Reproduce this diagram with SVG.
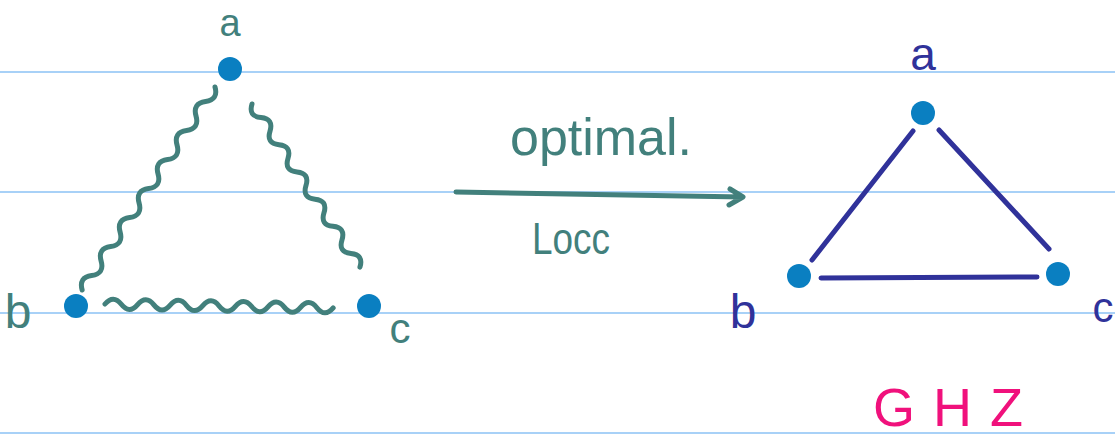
<svg xmlns="http://www.w3.org/2000/svg" width="1115" height="436" viewBox="0 0 1115 436">
<style>
.rule{stroke:#a8d1f7;stroke-width:2}
.teal{fill:none;stroke:#42807c;stroke-width:5;stroke-linecap:round;stroke-linejoin:round}
.navy{fill:none;stroke:#30329a;stroke-width:5;stroke-linecap:round;stroke-linejoin:round}
.dot{fill:#0a7fc1}
.t{font-family:"Liberation Sans",Arial,sans-serif}
.tt{fill:#42807c}
.tn{fill:#30329a}
.tp{fill:#f0117c}
</style>
<rect width="1115" height="436" fill="#ffffff"/>
<g id="rules">
<line class="rule" x1="0" y1="72" x2="1115" y2="72"/>
<line class="rule" x1="0" y1="192" x2="1115" y2="192"/>
<line class="rule" x1="0" y1="313" x2="1115" y2="313"/>
<line class="rule" x1="0" y1="433" x2="1115" y2="433"/>
</g>
<g id="connectors">
<path class="teal" transform="translate(215,87) rotate(123.2)" d="M0,0 q8.67,-10 17.33,0 t17.33,0 t17.33,0 t17.33,0 t17.33,0 t17.33,0 t17.33,0 t17.33,0 t17.33,0 t17.33,0 t17.33,0 t17.33,0 t17.33,0 t17.33,0"/>
<path class="teal" transform="translate(252,104) rotate(56.5)" d="M0,0 q8.15,10 16.3,0 t16.3,0 t16.3,0 t16.3,0 t16.3,0 t16.3,0 t16.3,0 t16.3,0 t16.3,0 t16.3,0 t16.3,0 t16.3,0"/>
<path class="teal" transform="translate(105,304) rotate(1)" d="M0,0 q8.15,-10 16.3,0 t16.3,0 t16.3,0 t16.3,0 t16.3,0 t16.3,0 t16.3,0 t16.3,0 t16.3,0 t16.3,0 t16.3,0 t16.3,0 t16.3,0 t16.3,0"/>
<path class="teal" d="M456,192 L743,197 M730,189 L743,197 L729,205"/>
<line class="navy" x1="913" y1="131" x2="812" y2="260"/>
<line class="navy" x1="939" y1="130" x2="1049" y2="249"/>
<line class="navy" x1="821" y1="278" x2="1037" y2="277"/>
</g>
<g id="left-a"><circle class="dot" cx="230" cy="69" r="12"/><text class="t tt" x="230" y="36" font-size="38" text-anchor="middle">a</text></g>
<g id="left-b"><circle class="dot" cx="76" cy="306" r="12"/><text class="t tt" x="18" y="328" font-size="48" text-anchor="middle">b</text></g>
<g id="left-c"><circle class="dot" cx="369" cy="306" r="12"/><text class="t tt" x="400" y="343" font-size="42" text-anchor="middle">c</text></g>
<g id="labels">
<text class="t tt" x="510" y="155" font-size="52" textLength="182" lengthAdjust="spacingAndGlyphs">optimal.</text>
<text class="t tt" x="532" y="254" font-size="44" textLength="78" lengthAdjust="spacingAndGlyphs">Locc</text>
</g>
<g id="right-a"><circle class="dot" cx="923" cy="113" r="12"/><text class="t tn" x="923" y="70" font-size="46" text-anchor="middle">a</text></g>
<g id="right-b"><circle class="dot" cx="799" cy="276" r="12"/><text class="t tn" x="743" y="328" font-size="48" text-anchor="middle">b</text></g>
<g id="right-c"><circle class="dot" cx="1058" cy="274" r="12"/><text class="t tn" x="1103" y="322" font-size="42" text-anchor="middle">c</text></g>
<g id="ghz"><text class="t tp" x="873" y="426" font-size="54" textLength="150" lengthAdjust="spacing">GHZ</text></g>
</svg>
